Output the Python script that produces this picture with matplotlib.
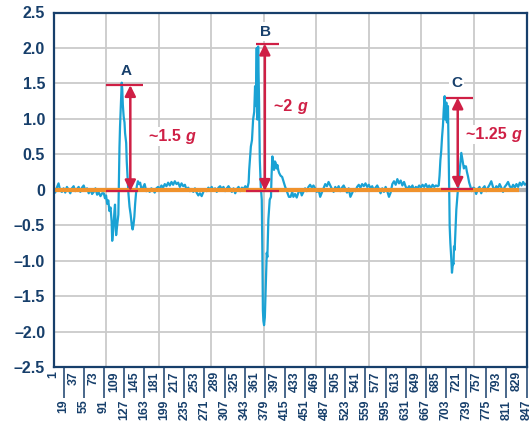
import numpy as np
import matplotlib
matplotlib.use("Agg")
import matplotlib.pyplot as plt

plt.rcParams['font.family'] = ['Liberation Sans', 'DejaVu Sans']

# ---------------- data ----------------
# baseline noise segments: (first sample, step, values)
base1_start, base1_step = 1, 3
base1 = [-0.02, -0.04, 0.03, 0.09, -0.01, -0.03, 0.02, -0.04, 0.04, 0.00,
         -0.05, 0.02, 0.05, -0.02, 0.01, 0.04, -0.03, 0.03, 0.06, -0.01,
         0.02, -0.05, 0.01, -0.06, -0.03, 0.02, -0.07, -0.04, -0.09, -0.05]

peakA_x = [91, 93, 95, 97, 99, 101, 103, 105, 106, 108, 110, 111, 112, 113, 115, 117,
           118, 119, 120, 121, 122, 123, 124, 125, 126.5, 128, 129, 131, 132, 134, 135,
           137, 139, 141, 142.5, 144, 145.6, 147, 148.6, 150, 152, 154, 156, 158]
peakA_y = [-0.05, -0.12, -0.08, -0.20, -0.15, -0.30, -0.25, -0.45, -0.72, -0.55, -0.30,
           -0.21, -0.45, -0.64, -0.50, -0.35, 0.10, 0.60, 0.89, 1.10, 1.35, 1.51, 1.42,
           1.20, 1.03, 0.95, 0.80, 0.66, 0.40, 0.10, -0.05, -0.24, -0.35, -0.50, -0.56,
           -0.50, -0.38, -0.20, -0.05, 0.05, 0.12, 0.08, 0.10, 0.02]

base2_start, base2_step = 161, 3
base2 = [0.03, 0.08, -0.02, 0.01, -0.03, 0.02, 0.00, -0.04, 0.02, 0.04,
         0.01, 0.06, 0.03, 0.08, 0.05, 0.10, 0.06, 0.11, 0.07, 0.12,
         0.08, 0.10, 0.04, 0.09, 0.05, 0.07, 0.00, 0.03, -0.02, 0.01,
         -0.03, 0.02, -0.04, -0.08, -0.05, -0.09, -0.03, 0.01, -0.02, 0.03,
         0.00, 0.04, -0.01, 0.02, -0.03, 0.03, 0.05, 0.01, 0.04, -0.02,
         0.02, 0.05, 0.01, -0.03, 0.02, -0.05, 0.01, 0.04, -0.02, 0.03,
         0.01, 0.05, 0.02]

peakB_x = [348, 350, 351, 354, 356, 358, 360, 361.5, 362.7, 364.5, 365.7, 367, 368.7,
           370, 371.7, 373.5, 374.6, 375.5, 376.4, 377.6, 379, 380.6, 382.4, 383.5,
           385.3, 387.7, 390, 391, 392.5, 394, 395.4, 397, 398.4, 400, 401.4, 403,
           404.4, 407, 410, 413, 415, 417.4, 420, 422, 425, 428]
peakB_y = [0.03, 0.10, 0.28, 0.61, 0.70, 0.99, 1.10, 1.46, 1.18, 2.00, 0.99, 2.02, 1.23,
           0.42, 0.05, -0.14, -0.90, -1.70, -1.85, -1.91, -1.80, -1.37, -0.89, -0.95,
           -0.42, -0.14, -0.10, 0.20, 0.47, 0.35, 0.28, 0.40, 0.38, 0.30, 0.35, 0.28,
           0.24, 0.20, 0.18, 0.10, 0.05, 0.00, -0.05, -0.10, -0.10, -0.03]

base3_start, base3_step = 430, 3
base3 = [-0.10, -0.06, -0.11, -0.04, 0.01, -0.08, -0.03, 0.02, -0.02, 0.04,
         0.07, 0.03, 0.06, 0.02, -0.03, 0.01, -0.10, -0.04, 0.02, 0.08,
         0.05, 0.11, 0.06, 0.01, -0.03, 0.04, 0.00, 0.05, -0.02, 0.03,
         0.06, 0.01, -0.04, 0.02, -0.10, -0.05, 0.01, -0.02, 0.04, 0.07,
         0.03, 0.08, 0.05, 0.09, 0.04, 0.07, 0.02, 0.05, -0.01, 0.03,
         0.06, 0.01, -0.05, 0.02, -0.03, 0.04, -0.02, -0.10, -0.04, 0.08,
         0.12, 0.07, 0.15, 0.09, 0.13, 0.06, 0.11, 0.04, 0.01, 0.05,
         0.02, 0.06, -0.01, 0.04, 0.02, 0.06, 0.03, 0.07, 0.04, 0.08,
         0.03, 0.06, 0.02, 0.07, 0.04, 0.06, 0.05]

peakC_x = [690, 691.5, 693, 694.5, 696, 697.5, 699, 700.6, 701.8, 703.6, 704.7, 706.5,
           707.8, 709, 709.6, 710.8, 712.6, 713.7, 715.5, 716.5, 717.3, 718.5, 719.7,
           721.5, 723.8, 725.5, 726.9, 728.5, 730.4, 731.8, 733.3, 735, 736.3, 738.7,
           740.5, 742.3, 744.5, 746.5, 749, 752]
peakC_y = [0.06, 0.20, 0.42, 0.55, 0.75, 0.90, 1.13, 1.32, 0.99, 1.23, 0.95, 1.18,
           0.52, -0.14, -0.52, -0.75, -0.99, -1.17, -1.03, -1.05, -0.80, -0.85, -0.61,
           -0.28, -0.05, 0.10, 0.24, 0.35, 0.52, 0.45, 0.38, 0.30, 0.33, 0.33,
           0.25, 0.19, 0.10, 0.05, -0.02, 0.03]

base4_start, base4_step = 754, 3
base4 = [0.02, -0.06, 0.01, 0.04, -0.05, 0.02, 0.05, -0.02, 0.03, 0.07,
         0.12, 0.04, -0.01, 0.05, 0.02, 0.08, 0.03, -0.03, 0.04, 0.07,
         0.11, 0.05, 0.02, 0.07, 0.03, 0.08, 0.04, 0.10, 0.06, 0.11,
         0.07, 0.09]

# reference (zero) lines
ref_orange_end = 833
n_samples = 847

# tick labels
x_first, x_last, x_label_step = 1, 847, 18
y_ticks = [2.5, 2.0, 1.5, 1.0, 0.5, 0, -0.5, -1.0, -1.5, -2.0, -2.5]

# annotations: label, label pos, text, text pos, arrow x, top y, bottom y, top line x-range, bottom line x-range
annotations = [
    ("A", (131, 1.67), "~1.5 ", (172, 0.75), 138.4, 1.475, -0.02, (95.6, 161.6), (95.6, 152.7)),
    ("B", (381, 2.23), "~2 ", (395.5, 1.17), 379, 2.06, -0.015, (363.3, 404.4), (345.5, 404.4)),
    ("C", (722, 1.50), "~1.25 ", (738, 0.78), 724, 1.30, 0.014, (702.6, 752), (693.5, 752)),
]

# ---------------- assemble series ----------------
def seg(start, step, vals):
    return [start + step * i for i in range(len(vals))], list(vals)

xs, ys = [], []
for sx, sy in [seg(base1_start, base1_step, base1), (peakA_x, peakA_y),
               seg(base2_start, base2_step, base2), (peakB_x, peakB_y),
               seg(base3_start, base3_step, base3), (peakC_x, peakC_y),
               seg(base4_start, base4_step, base4)]:
    xs += list(sx)
    ys += list(sy)

# ---------------- styling ----------------
NAVY = '#173f6b'
BLUE = '#1aa2d4'
ORANGE = '#f0922c'
RED = '#cf1f45'
GRID = '#cacaca'

fig = plt.figure(figsize=(5.31, 4.21), dpi=100)
ax = fig.add_axes([53.5 / 531, 54 / 421, 473 / 531, 354.5 / 421])

ax.set_xlim(x_first, x_last)
ax.set_ylim(-2.5, 2.5)

# grid
for v in y_ticks:
    ax.axhline(v, color=GRID, lw=1.3, zorder=0)
for k in range(1, 9):
    ax.axvline(x_first + k * (x_last - x_first) / 9, color=GRID, lw=1.3, zorder=0)

ax.plot([x_first, x_last], [0, 0], color='#b0b0b0', lw=3, zorder=1, solid_capstyle='butt')
ax.plot(xs, ys, color=BLUE, lw=1.6, zorder=2)
ax.plot([x_first, ref_orange_end], [0, 0], color=ORANGE, lw=3, zorder=3, solid_capstyle='butt')

for lab, lpos, txt, tpos, ax_x, ytop, ybot, toprange, botrange in annotations:
    ax.plot(list(toprange), [ytop, ytop], color=RED, lw=1.6, zorder=4, solid_capstyle='butt')
    ax.plot(list(botrange), [ybot, ybot], color=RED, lw=1.6, zorder=4, solid_capstyle='butt')
    ax.annotate('', xy=(ax_x, ytop), xytext=(ax_x, ybot),
                arrowprops=dict(arrowstyle='<|-|>', color=RED, lw=1.8,
                                mutation_scale=16, shrinkA=0, shrinkB=0),
                zorder=5)
    ax.text(lpos[0], lpos[1], lab, color=NAVY, fontsize=11, fontweight='bold',
            ha='center', va='center', zorder=6,
            bbox=dict(boxstyle='square,pad=0.15', fc='white', ec='none'))
    t1 = ax.text(tpos[0], tpos[1], txt, color=RED, fontsize=11.5, fontweight='bold',
                 ha='left', va='center', zorder=6,
                 bbox=dict(boxstyle='square,pad=0.1', fc='white', ec='none'))
    ax.annotate('g', xy=(1, 0), xycoords=t1, color=RED, fontsize=11.5,
                fontweight='bold', fontstyle='italic', ha='left', va='bottom', zorder=6,
                bbox=dict(boxstyle='square,pad=0.1', fc='white', ec='none'))

# spines
for s in ax.spines.values():
    s.set_color(NAVY)
    s.set_linewidth(1.6)
    s.set_zorder(7)

# y ticks
ax.set_yticks(y_ticks)
ax.set_yticklabels(['0' if v == 0 else f'{v:.1f}'.replace('-', '\u2013') for v in y_ticks])
ax.tick_params(axis='y', length=0, pad=6, labelsize=11.5, labelcolor=NAVY)
for t in ax.get_yticklabels():
    t.set_fontweight('bold')

# x ticks: staggered labels
all_labels = list(range(x_first, x_last + 1, x_label_step))
upper = all_labels[0::2]
lower = all_labels[1::2]
ax.set_xticks(upper)
ax.set_xticklabels([str(v) for v in upper], rotation=90)
ax.set_xticks(lower, minor=True)
ax.set_xticklabels([str(v) for v in lower], rotation=90, minor=True)
ax.tick_params(axis='x', which='major', length=0, pad=3, labelsize=8.8,
               labelcolor=NAVY, color=NAVY)
ax.tick_params(axis='x', which='minor', length=22, width=1.1, pad=1.5, labelsize=8.8,
               labelcolor=NAVY, color=NAVY)
for t in ax.get_xticklabels() + ax.get_xticklabels(minor=True):
    t.set_fontweight('bold')

fig.savefig('out.png', dpi=100)
